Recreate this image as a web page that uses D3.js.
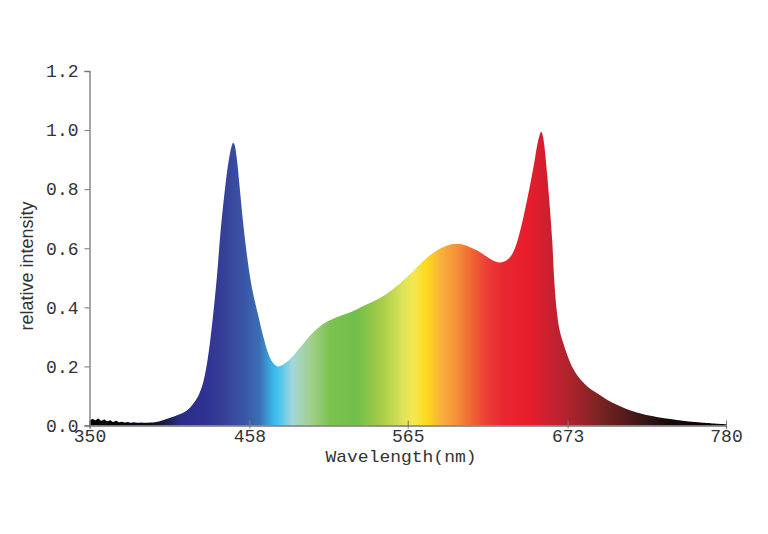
<!DOCTYPE html>
<html>
<head>
<meta charset="utf-8">
<script src="https://cdn.jsdelivr.net/npm/d3@7"></script>
<style>
  html, body { margin: 0; padding: 0; background: #ffffff; }
  svg { display: block; }
</style>
</head>
<body>
<script>
// ---- data ----
const wavelengths = [350, 352, 354, 356, 358, 360, 362, 364, 366, 368, 370, 372, 374, 376, 378, 380, 382, 385, 388, 391,
  395, 400, 405, 410, 415, 418, 421, 424, 427, 430, 433, 436, 438.6, 441.5, 444, 446, 447, 448, 449.5, 451.2, 453.5, 456.2,
  459.6, 464.7, 468, 470.8, 474, 476.9, 480, 484, 488, 492, 496, 500, 505, 510, 515, 520, 525, 530, 536, 542, 548, 554,
  560, 566, 572, 578, 584, 590, 596, 600, 606, 612, 618, 623, 628, 632, 635.5, 638.6, 641.5, 644.2, 646.5, 648.7, 650.8,
  652.5, 654, 655.2, 656.2, 657.2, 659.3, 661.1, 662.7, 663.8, 665.6, 667.5, 670.1, 675, 680.2, 686, 692.6, 703, 715.1,
  730, 746.7, 763, 780];
const intensity = [0.015, 0.022, 0.018, 0.024, 0.016, 0.020, 0.014, 0.018, 0.012, 0.016, 0.011, 0.013, 0.010, 0.012,
  0.009, 0.011, 0.009, 0.010, 0.009, 0.010,
  0.012, 0.019, 0.027, 0.036, 0.048, 0.061, 0.080, 0.106, 0.150, 0.230, 0.350, 0.500, 0.660, 0.800, 0.895, 0.945, 0.957,
  0.950, 0.905, 0.820, 0.700, 0.583,
  0.470, 0.357, 0.290, 0.244, 0.212, 0.200, 0.204, 0.218, 0.238, 0.262, 0.287, 0.310, 0.333, 0.350, 0.362, 0.372, 0.381,
  0.392, 0.407, 0.421, 0.437, 0.458,
  0.482, 0.510, 0.540, 0.568, 0.591, 0.606, 0.614, 0.614, 0.606, 0.592, 0.573, 0.558, 0.552, 0.560, 0.580, 0.617, 0.670,
  0.730, 0.785, 0.842, 0.900,
  0.950, 0.982, 0.994, 0.982, 0.950, 0.842, 0.730, 0.617, 0.504, 0.391, 0.325, 0.278, 0.210, 0.165, 0.134, 0.110, 0.078,
  0.052, 0.032, 0.019, 0.010, 0.004];
const xTicks = [350, 458, 565, 673, 780];
const yTicks = [0, 0.2, 0.4, 0.6, 0.8, 1.0, 1.2];
const colorStopWl = [350, 392, 412, 426.7, 440, 455, 465.2, 473.3, 477.4, 486.8, 499, 512.5, 530.7, 546.3, 561.8,
  568.6, 578, 586.8, 598.3, 607.1, 618.5, 630.7, 647.6, 662.6, 676.6, 692.8, 708.4, 726.6, 738.7, 780];
const colorStopColor = ["#000000", "#0c0c18", "#2b2e85", "#2e3192", "#363f98", "#3a56a6", "#3a70b6", "#3ab2e4",
  "#40c3ee", "#a3d6dc", "#a3d08e", "#7cc24f", "#72bf4c", "#a3cb48", "#dde35a", "#f3e850", "#fdd91c", "#f8b23a",
  "#f4903a", "#f06a33", "#ec3d38", "#e8262f", "#e81c2b", "#c62131", "#a8232b", "#7f2424", "#5c1d1d", "#341414",
  "#1a0a0a", "#000000"];

const W = 768, H = 534;
const svg = d3.select("body").append("svg").attr("width", W).attr("height", H);

const x = d3.scaleLinear().domain([350, 780]).range([89.5, 726]);
const y = d3.scaleLinear().domain([0, 1.2]).range([425.5, 71]);

const data = wavelengths.map((w, i) => ({ w, v: intensity[i] }));

// gradient
const defs = svg.append("defs");
const grad = defs.append("linearGradient")
  .attr("id", "spec")
  .attr("gradientUnits", "userSpaceOnUse")
  .attr("x1", x(350)).attr("x2", x(780)).attr("y1", 0).attr("y2", 0);
colorStopWl.forEach((w, i) => {
  grad.append("stop")
    .attr("offset", ((w - 350) / (780 - 350)))
    .attr("stop-color", colorStopColor[i]);
});

const area = d3.area()
  .x(d => x(d.w))
  .y0(y(0))
  .y1(d => y(d.v))
  .curve(d3.curveCatmullRom.alpha(0.5));

svg.append("path")
  .datum(data)
  .attr("d", area)
  .attr("fill", "url(#spec)");

const axisColor = "#777";
const labelFont = "'Liberation Mono', 'Courier New', monospace";

// y axis
const yAxis = svg.append("g").attr("transform", `translate(${x(350)},0)`)
  .call(d3.axisLeft(y).tickValues(yTicks).tickFormat(d3.format(".1f")).tickSize(5).tickPadding(6));
yAxis.select(".domain").attr("stroke", axisColor).attr("stroke-width", 1.3);
yAxis.selectAll(".tick line").attr("stroke", axisColor);
yAxis.selectAll(".tick text")
  .attr("font-family", labelFont).attr("font-size", 18).attr("fill", "#333");

// x axis
const xAxis = svg.append("g").attr("transform", `translate(0,${y(0)})`)
  .call(d3.axisBottom(x).tickValues(xTicks).tickFormat(d3.format("d")).tickSize(3).tickPadding(1));
xAxis.select(".domain").attr("stroke", axisColor).attr("stroke-width", 1.3);
xAxis.selectAll(".tick line").attr("stroke", axisColor).attr("y1", -5);
xAxis.selectAll(".tick text")
  .attr("font-family", labelFont).attr("font-size", 18).attr("fill", "#333");

// axis titles
svg.append("text")
  .attr("x", 401).attr("y", 462)
  .attr("text-anchor", "middle")
  .attr("font-family", labelFont).attr("font-size", 17).attr("fill", "#333")
  .attr("textLength", 151).attr("lengthAdjust", "spacingAndGlyphs")
  .text("Wavelength(nm)");

svg.append("text")
  .attr("transform", "translate(33,266) rotate(-90)")
  .attr("text-anchor", "middle")
  .attr("font-family", "'Liberation Sans', Arial, sans-serif").attr("font-size", 18).attr("fill", "#333")
  .text("relative intensity");
</script>
</body>
</html>
